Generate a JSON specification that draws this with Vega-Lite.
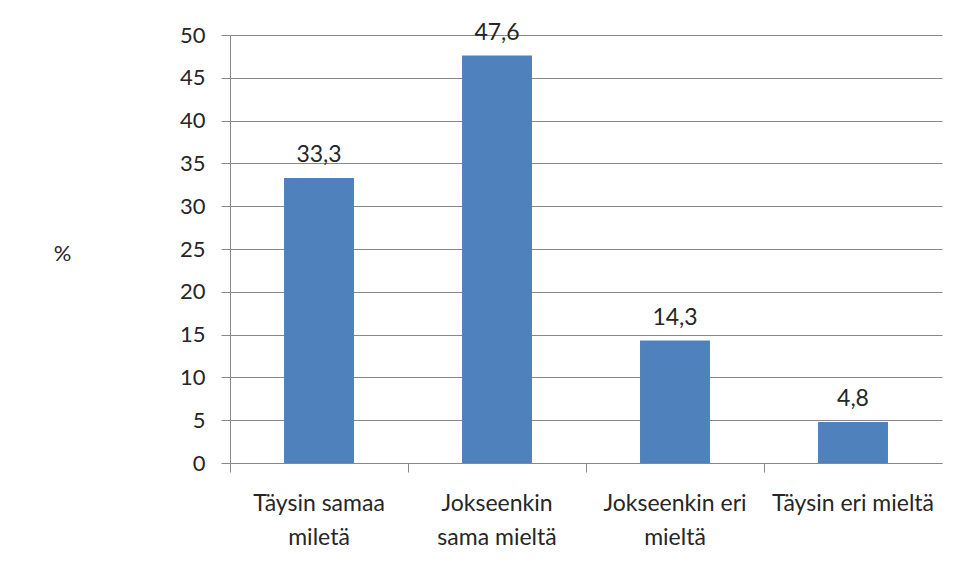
{
  "$schema": "https://vega.github.io/schema/vega-lite/v6.json",
  "width": 712,
  "height": 428,
  "autosize": {"type": "none"},
  "padding": {"left": 230, "top": 35, "right": 15, "bottom": 112},
  "background": "white",
  "config": {
    "view": {"stroke": null},
    "font": "Lato",
    "locale": {"number": {"decimal": ",", "thousands": " ", "grouping": [3], "currency": ["", " €"]}}
  },
  "data": {
    "values": [
      {"vastaus": "Täysin samaa miletä", "prosentti": 33.3},
      {"vastaus": "Jokseenkin sama mieltä", "prosentti": 47.6},
      {"vastaus": "Jokseenkin eri mieltä", "prosentti": 14.3},
      {"vastaus": "Täysin eri mieltä", "prosentti": 4.8}
    ]
  },
  "encoding": {
    "x": {
      "field": "vastaus",
      "type": "nominal",
      "sort": null,
      "scale": {"paddingInner": 0.607, "paddingOuter": 0.3035},
      "axis": {
        "title": null,
        "labelAngle": 0,
        "labelFont": "Lato",
        "labelFontSize": 23,
        "labelColor": "#262626",
        "labelLineHeight": 34,
        "labelPadding": 20,
        "labelBaseline": "top",
        "labelExpr": "datum.value == 'Täysin samaa miletä' ? ['Täysin samaa', 'miletä'] : datum.value == 'Jokseenkin sama mieltä' ? ['Jokseenkin', 'sama mieltä'] : datum.value == 'Jokseenkin eri mieltä' ? ['Jokseenkin eri', 'mieltä'] : datum.value",
        "bandPosition": -0.771,
        "ticks": true,
        "tickSize": 9,
        "tickColor": "#888888",
        "domainColor": "#888888",
        "grid": false
      }
    },
    "y": {
      "field": "prosentti",
      "type": "quantitative",
      "scale": {"domain": [0, 50], "nice": false},
      "axis": {
        "title": "%",
        "titleAngle": 0,
        "titleX": -168,
        "titleY": 218,
        "titleFont": "Lato",
        "titleFontSize": 22,
        "titleFontWeight": "normal",
        "titleColor": "#262626",
        "titleBaseline": "middle",
        "titleAlign": "center",
        "values": [0, 5, 10, 15, 20, 25, 30, 35, 40, 45, 50],
        "labelFont": "Lato",
        "labelFontSize": 22,
        "labelColor": "#262626",
        "labelPadding": 16,
        "tickSize": 9,
        "tickColor": "#888888",
        "domainColor": "#888888",
        "grid": true,
        "gridColor": "#888888",
        "gridWidth": 1,
        "format": "d"
      }
    }
  },
  "layer": [
    {"mark": {"type": "bar", "color": "#4F81BD"}},
    {
      "mark": {"type": "text", "baseline": "bottom", "dy": -11, "fontSize": 23, "font": "Lato", "color": "#262626"},
      "encoding": {"text": {"field": "prosentti", "type": "quantitative", "format": ".1f"}}
    }
  ]
}
